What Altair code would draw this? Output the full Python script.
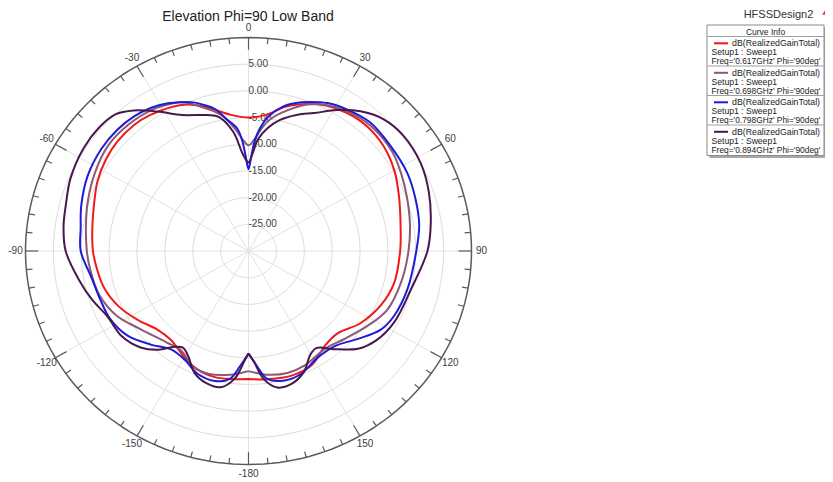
import altair as alt
import pandas as pd
import numpy as np

# ---------------- data ----------------
title_text = "Elevation Phi=90 Low Band"
design_name = "HFSSDesign2"
legend_header = "Curve Info"
trace_name = "dB(RealizedGainTotal)"
setup_name = "Setup1 : Sweep1"
freqs = ["0.617GHz", "0.698GHz", "0.798GHz", "0.894GHz"]
line_colors = ["#F01818", "#8B5A75", "#1C1CD8", "#4A1650"]

ring_levels = [-25, -20, -15, -10, -5, 0, 5]
ring_texts = ["-25.00", "-20.00", "-15.00", "-10.00", "-5.00", "0.00", "5.00"]
r_min = -30
r_max = 10
angle_values = [0, 30, 60, 90, 120, 150, 180, -150, -120, -90, -60, -30]
angle_texts = ["0", "30", "60", "90", "120", "150", "-180", "-150", "-120", "-90", "-60", "-30"]

th_red = [-180, -172, -166, -160, -155, -150, -145, -140, -132, -123,
          -114, -105, -97, -90, -82, -73, -64, -56, -49, -41,
          -35, -27, -22, -17, -12, -7, 0, 7, 14, 21,
          27, 34, 42, 51, 60, 69, 80, 90, 103, 113,
          124, 134, 142, 152, 162, 172, 180]
db_red = [-6.0, -5.8, -5.6, -5.8, -6.3, -7.0, -7.8, -8.3, -8.0, -6.3,
          -4.5, -3.2, -2.6, -2.1, -1.7, -1.0, 0.1, 0.8, 1.2, 1.3,
          1.0, 0.3, -0.4, -1.6, -3.1, -4.3, -5.0, -4.3, -2.1, -0.5,
          0.6, 1.3, 1.6, 1.2, 0.2, -1.1, -2.3, -2.8, -3.2, -4.15,
          -5.8, -7.8, -7.6, -5.8, -5.4, -5.75, -6.0]

th_mau = [-180, -172, -163, -155, -147, -139, -127, -117, -107, -97,
          -90, -80, -72, -62, -52, -42, -33, -27, -23, -18,
          -11, -6, -3, 0, 3, 6, 9, 13, 21, 27,
          34, 43, 54, 62, 70, 80, 90, 102, 114, 123,
          134, 143, 155, 163, 172, 180]
db_mau = [-7.5, -6.6, -5.9, -6.2, -7.8, -7.4, -5.7, -3.4, -2.0, -1.4,
          -1.0, -0.4, 0.3, 1.2, 2.0, 2.0, 1.6, 0.9, 0.3, -1.5,
          -4.0, -7.0, -9.0, -10.2, -9.0, -6.8, -5.0, -3.4, -0.6, 0.7,
          1.6, 2.1, 1.8, 1.0, 0.2, -0.6, -1.3, -2.0, -2.8, -4.4,
          -6.2, -7.1, -6.3, -6.1, -6.6, -7.5]

th_blu = [-180, -176, -172, -166, -158, -151, -143, -135, -126, -117,
          -109, -100, -90, -82, -74, -64, -54, -46, -39, -33,
          -28, -23, -19, -16, -13, -9, -5, -3, -1.5, 0,
          1.5, 3, 5, 8, 13, 17, 21, 27, 34, 42,
          52, 63, 72, 81, 90, 104, 115, 122, 130, 139,
          148, 158, 165, 172, 176, 180]
db_blu = [-10.8, -8.4, -5.8, -4.9, -5.3, -6.6, -6.9, -5.2, -3.1, -2.1,
          -1.9, -1.4, 0.1, 0.4, 1.2, 2.1, 2.6, 2.7, 2.5, 2.0,
          1.3, 0.3, -0.6, -1.6, -2.6, -5.0, -7.0, -9.5, -12.5, -14.7,
          -12.5, -9.5, -7.0, -4.6, -2.2, -1.0, -0.1, 1.1, 1.9, 2.5,
          2.2, 2.0, 1.5, 1.0, 0.1, -0.6, -1.2, -2.1, -4.4, -6.4,
          -6.5, -5.1, -4.9, -5.8, -8.4, -10.8]

th_pur = [-180, -178, -174, -169, -163, -157, -151, -147, -143, -139,
          -133, -125, -116, -108, -100, -90, -82, -75, -67, -57,
          -49, -43, -38, -32, -25, -16, -12, -7, -3, 0,
          2.5, 4.5, 8.5, 13, 19, 24.5, 31, 37.5, 44.5, 52,
          62, 71, 81, 90, 104, 117, 126, 133, 140, 146,
          150, 156.5, 163, 168.5, 173.5, 177.5, 180]
db_pur = [-10.8, -9.4, -5.9, -4.0, -4.1, -5.2, -7.6, -8.4, -7.5, -5.5,
          -3.5, -2.2, -1.9, -0.5, 0.9, 2.8, 3.5, 3.9, 4.7, 5.3,
          5.4, 5.0, 3.4, 0.8, -1.9, -3.5, -4.3, -7.5, -12.0, -13.4,
          -11.5, -9.1, -6.7, -4.8, -3.0, -1.6, 0.8, 3.0, 4.6, 5.2,
          5.0, 4.2, 3.1, 2.1, 0.0, -0.65, -1.6, -3.15, -6.0, -8.1,
          -7.7, -5.2, -3.9, -3.9, -5.85, -9.4, -10.8]

# ---------------- tables ----------------
rows = []
for f, th, db in zip(freqs, [th_red, th_mau, th_blu, th_pur], [db_red, db_mau, db_blu, db_pur]):
    for i, (t, d) in enumerate(zip(th, db)):
        rows.append({"freq": f, "theta": t, "db": d, "k": i})
curves = pd.DataFrame(rows)

circle_angles = np.arange(0, 362, 2)
rings = pd.DataFrame([{"level": lv, "theta": a} for lv in ring_levels for a in circle_angles])
outer = pd.DataFrame({"level": r_max, "theta": circle_angles})
tick_df = pd.DataFrame({"theta": np.arange(-175, 181, 5)})
spoke_df = pd.DataFrame({"theta": np.arange(0, 360, 30)})
alab = pd.DataFrame({"theta": angle_values, "label": angle_texts})
rlab = pd.DataFrame({"level": ring_levels, "label": ring_texts})

span = r_max - r_min
xs = alt.Scale(domain=[-span, span], nice=False, zero=False)
ys = alt.Scale(domain=[-span, span], nice=False, zero=False)
RAD = "PI/180"
FONT = "Liberation Sans"


def polar(chart, rexpr, name_x="px", name_y="py"):
    return chart.transform_calculate(
        **{name_x: f"({rexpr})*sin(datum.theta*{RAD})", name_y: f"({rexpr})*cos(datum.theta*{RAD})"}
    )


ring_layer = polar(alt.Chart(rings), f"datum.level - ({r_min})").mark_line(
    color="#DCDCDC", strokeWidth=1
).encode(
    x=alt.X("px:Q", scale=xs, axis=None),
    y=alt.Y("py:Q", scale=ys, axis=None),
    detail="level:N",
    order="theta:Q",
)

spoke_layer = alt.Chart(spoke_df).transform_calculate(
    x0="0", y0="0",
    x1=f"{span}*sin(datum.theta*{RAD})", y1=f"{span}*cos(datum.theta*{RAD})"
).mark_rule(color="#E2E2E2", strokeWidth=1).encode(
    x=alt.X("x0:Q", scale=xs, axis=None), y=alt.Y("y0:Q", scale=ys, axis=None),
    x2="x1:Q", y2="y1:Q",
)

outer_layer = polar(alt.Chart(outer), f"datum.level - ({r_min})").mark_line(
    color="#5A5A5A", strokeWidth=1.5
).encode(
    x=alt.X("px:Q", scale=xs, axis=None),
    y=alt.Y("py:Q", scale=ys, axis=None),
    order="theta:Q",
)

tick_layer = alt.Chart(tick_df).transform_calculate(
    tl="(datum.theta % 30 == 0) ? 2.3 : 1.1",
).transform_calculate(
    x0=f"{span}*sin(datum.theta*{RAD})", y0=f"{span}*cos(datum.theta*{RAD})",
    x1=f"({span}-datum.tl)*sin(datum.theta*{RAD})", y1=f"({span}-datum.tl)*cos(datum.theta*{RAD})",
).mark_rule(color="#5A5A5A", strokeWidth=1.2).encode(
    x=alt.X("x0:Q", scale=xs, axis=None), y=alt.Y("y0:Q", scale=ys, axis=None),
    x2="x1:Q", y2="y1:Q",
)

alab_layer = polar(alt.Chart(alab), f"{span}+1.8").mark_text(
    font=FONT, fontSize=10, color="#404040", align="center", baseline="middle"
).encode(
    x=alt.X("px:Q", scale=xs, axis=None), y=alt.Y("py:Q", scale=ys, axis=None), text="label:N"
)

rlab_layer = alt.Chart(rlab).transform_calculate(
    px="0", py=f"datum.level - ({r_min})"
).mark_text(
    font=FONT, fontSize=10, color="#404040", align="left", baseline="middle", dx=0
).encode(
    x=alt.X("px:Q", scale=xs, axis=None), y=alt.Y("py:Q", scale=ys, axis=None), text="label:N"
)

curve_layer = polar(alt.Chart(curves), f"max(datum.db - ({r_min}), 0)").mark_line(
    strokeWidth=2, interpolate="catmull-rom"
).encode(
    x=alt.X("px:Q", scale=xs, axis=None),
    y=alt.Y("py:Q", scale=ys, axis=None),
    color=alt.Color("freq:N", scale=alt.Scale(domain=freqs, range=line_colors), legend=None),
    detail="freq:N",
    order="k:Q",
)

one = pd.DataFrame({"k": [0]})


def txt(s, x, y, size=9, align="left", color="#222222"):
    return alt.Chart(one).mark_text(
        font=FONT, fontSize=size, align=align, baseline="middle", color=color
    ).encode(x=alt.value(x), y=alt.value(y), text=alt.value(s))


def rule(x1, x2, y1, y2, color, w):
    return alt.Chart(one).mark_rule(color=color, strokeWidth=w).encode(
        x=alt.value(x1), x2=alt.value(x2), y=alt.value(y1), y2=alt.value(y2)
    )


def box(x1, x2, y1, y2, fill, stroke=None):
    kw = {"fill": fill}
    if stroke:
        kw.update(stroke=stroke, strokeWidth=1)
    return alt.Chart(one).mark_rect(**kw).encode(
        x=alt.value(x1), x2=alt.value(x2), y=alt.value(y1), y2=alt.value(y2)
    )


LX = 681.5  # legend box left, relative to plot origin
annot = [
    txt(title_text, 222.5, -21, size=14, align="center", color="#222222"),
    txt(design_name, LX + 71.5, -23, size=11, align="center", color="#333333"),
    alt.Chart(one).mark_point(shape="triangle-up", filled=True, color="#E03030", size=30, opacity=1).encode(
        x=alt.value(LX + 118), y=alt.value(-25)),
    box(LX + 2.5, LX + 119.5, -10, 120.5, "#A8A8A8"),
    box(LX, LX + 117, -12.5, 118, "#FFFFFF", stroke="#8A8A8A"),
    txt(legend_header, LX + 58.5, -5.8, size=8.5, align="center"),
]
for i, (f, c) in enumerate(zip(freqs, line_colors)):
    base = 29.5 * i
    annot += [
        rule(LX, LX + 117, -1 + base, -1 + base, "#A0A0A0", 1),
        rule(LX + 7, LX + 21, 5.8 + base, 5.8 + base, c, 2),
        txt(trace_name, LX + 25, 5.8 + base, size=8.8),
        txt(setup_name, LX + 4.5, 14.7 + base, size=8.6),
        txt(f"Freq='{f}' Phi='90deg'", LX + 4.5, 23.5 + base, size=8.4),
    ]

chart = alt.layer(
    ring_layer, spoke_layer, rlab_layer, outer_layer, tick_layer, alab_layer, curve_layer, *annot
).properties(
    width=446, height=427,
    autosize=alt.AutoSizeParams(type="none"),
    padding={"left": 17.5, "top": 29.5, "right": 353.5, "bottom": 16},
    background="white",
).configure_view(stroke=None)

chart.save("out.html", embed_options={"renderer": "svg", "actions": False})
